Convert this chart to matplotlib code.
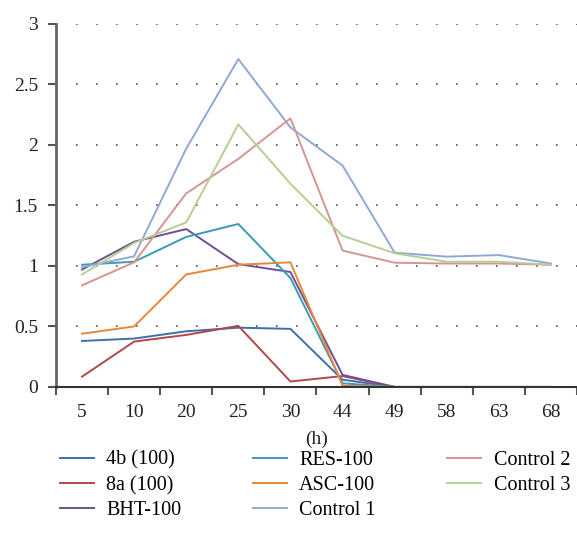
import matplotlib.pyplot as plt

plt.rcParams['font.family'] = ['Liberation Serif', 'DejaVu Serif']

hours = ['5', '10', '20', '25', '30', '44', '49', '58', '63', '68']

b4_100 = [0.38, 0.40, 0.46, 0.49, 0.48, 0.06, 0, 0, 0, 0]
a8_100 = [0.085, 0.375, 0.43, 0.505, 0.045, 0.09, 0, 0, 0, 0]
bht_100 = [0.97, 1.20, 1.305, 1.015, 0.95, 0.10, 0, 0, 0, 0]
res_100 = [1.01, 1.035, 1.24, 1.347, 0.90, 0.03, 0, 0, 0, 0]
asc_100 = [0.44, 0.50, 0.93, 1.01, 1.03, 0.01, 0, 0, 0, 0]
control1 = [0.99, 1.08, 1.97, 2.71, 2.145, 1.83, 1.11, 1.077, 1.09, 1.02]
control2 = [0.84, 1.03, 1.60, 1.885, 2.22, 1.127, 1.027, 1.02, 1.02, 1.01]
control3 = [0.93, 1.19, 1.36, 2.17, 1.68, 1.25, 1.105, 1.035, 1.035, 1.01]

series = [
    ('4b (100)', b4_100, '#3e6eac'),
    ('8a (100)', a8_100, '#b0474a'),
    ('BHT-100', bht_100, '#6e5092'),
    ('RES-100', res_100, '#3a9bb5'),
    ('ASC-100', asc_100, '#e8873a'),
    ('Control 1', control1, '#90a8d6'),
    ('Control 2', control2, '#d69494'),
    ('Control 3', control3, '#b5cf92'),
]

fig = plt.figure(figsize=(5.77, 5.45), dpi=100)
ax = fig.add_axes([0.097, 0.29, 0.903, 0.666])

x = list(range(len(hours)))
for name, vals, col in series:
    ax.plot(x, vals, color=col, linewidth=1.4, label=name)

ax.set_xlim(-0.5, len(hours) - 0.5)
ax.set_ylim(0, 3)
ax.set_yticks([0, 0.5, 1, 1.5, 2, 2.5, 3])
ax.set_yticklabels(['0', '0.5', '1', '1.5', '2', '2.5', '3'])
ax.set_xticks(x)
ax.set_xticklabels(hours)
ax.set_xticks([i + 0.5 for i in range(-1, len(hours))], minor=True)
ax.tick_params(axis='x', which='major', length=0, labelsize=14, pad=12, colors='#222222')
ax.tick_params(axis='x', which='minor', length=6, width=1.5, color='#555555', direction='out')
ax.tick_params(axis='y', length=6, width=1.5, color='#555555', labelsize=14, pad=7, labelcolor='#222222')

# 网格线
for v in [0.5, 1, 1.5, 2, 2.5, 3]:
    ax.axhline(v, color='#555555', linestyle=(0, (1, 11)), linewidth=1.2, zorder=0)

for s in ['top', 'right']:
    ax.spines[s].set_visible(False)
ax.spines['left'].set_color('#666666')
ax.spines['left'].set_linewidth(2)
ax.spines['bottom'].set_color('#333333')
ax.spines['bottom'].set_linewidth(1.5)

ax.set_xlabel('(h)', fontsize=14, labelpad=7, color='#222222')

fig.legend(loc='upper left', bbox_to_anchor=(0.09, 0.188), ncol=3, frameon=False,
           fontsize=14.5, handlelength=1.7, handletextpad=0.6, columnspacing=3.55,
           labelspacing=0.3, borderaxespad=0)

plt.savefig('out.png', dpi=100)
